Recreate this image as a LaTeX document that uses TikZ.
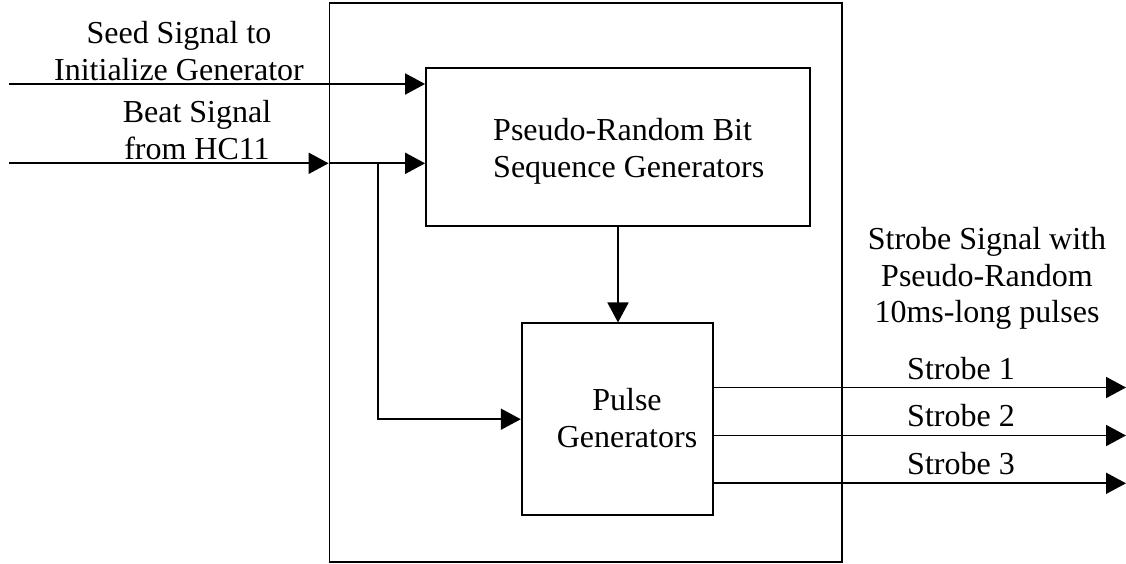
\documentclass[tikz,border=0pt]{standalone}
\usepackage{fontspec}
\setmainfont{Liberation Serif}
\usetikzlibrary{arrows.meta}
\tikzset{
  blk/.style={draw=black, line width=1.8pt, inner sep=0pt},
  arr/.style={line width=1.8pt, -{Triangle[length=20pt,width=21pt]}},
  lbl/.style={inner sep=0pt, font=\fontsize{32}{36.5}\selectfont, anchor=base},
}
\begin{document}
\begin{tikzpicture}[x=1pt,y=-1pt]
\useasboundingbox (0,0) rectangle (1126,563);
\node[blk, minimum width=512.5pt, minimum height=559pt] (outer) at (585.75,282.8) {};
\node[blk, minimum width=384pt, minimum height=158pt] (prbs) at (618,146.7) {};
\node[blk, minimum width=191.6pt, minimum height=191.7pt] (pulse) at (617.5,419.2) {};
% texts (anchor = baseline of last line)
\node[lbl, align=center] (seedtxt) at (179,80) {Seed Signal to\\Initialize Generator};
\node[lbl, align=center] (beattxt) at (197,159.3) {Beat Signal\\from HC11};
\node[lbl, align=left, anchor=base west] (prbstxt) at (493,177.3) {Pseudo-Random Bit\\Sequence Generators};
\node[lbl, align=center] (pulsetxt) at (627,447.3) {Pulse\\Generators};
\node[lbl, align=center] (outtxt) at (987,322.7) {Strobe Signal with\\Pseudo-Random\\10ms-long pulses};
\node[lbl] (s1txt) at (961,379.3) {Strobe 1};
\node[lbl] (s2txt) at (961,426) {Strobe 2};
\node[lbl] (s3txt) at (961,474) {Strobe 3};
% connectors
\coordinate (seedL) at (9,84);
\coordinate (beatL) at (9,163.3);
\coordinate (br) at (377.7,163.3);
\coordinate (s1R) at (1126,387.5);
\coordinate (s2R) at (1126,435.5);
\coordinate (s3R) at (1126,483.3);
\draw[arr] (seedL) -- (seedL -| prbs.west);
\draw[arr] (beatL) -- (beatL -| outer.west);
\draw[arr] (beatL -| outer.west) -- (beatL -| prbs.west);
\draw[arr] (br) |- (pulse.west);
\draw[arr] (prbs.south) -- (prbs.south |- pulse.north);
\draw[arr] (s1R -| pulse.east) -- (s1R);
\draw[arr] (s2R -| pulse.east) -- (s2R);
\draw[arr] (s3R -| pulse.east) -- (s3R);
\end{tikzpicture}
\end{document}
